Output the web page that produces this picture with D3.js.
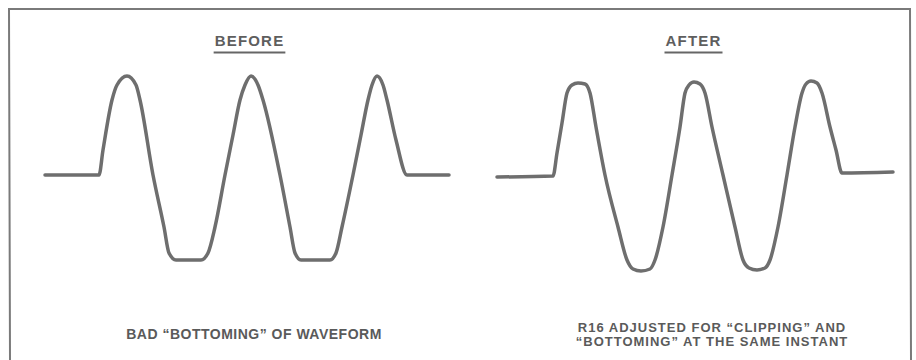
<!DOCTYPE html>
<html>
<head>
<meta charset="utf-8">
<script src="https://cdn.jsdelivr.net/npm/d3@7"></script>
<style>
  body { margin: 0; background: #fff; }
  svg { display: block; }
</style>
</head>
<body>
<div id="chart"></div>
<script>
// panel titles and captions
const titles = ["BEFORE", "AFTER"];
const captions = [
  ["BAD \u201CBOTTOMING\u201D OF WAVEFORM"],
  ["R16 ADJUSTED FOR \u201CCLIPPING\u201D AND", "\u201CBOTTOMING\u201D AT THE SAME INSTANT"]
];

// before: waveform (time units, level units; 0 = rest line)
const beforeTime  = [0, 54, 58, 67, 72, 82, 91, 95, 108, 119, 124, 131, 156, 163, 170, 180, 188, 195, 200, 206, 213, 218, 235, 245, 250, 256, 285, 291, 297, 308, 316, 323, 327, 332, 338, 342, 351, 362, 404];
const beforeLevel = [0, 0, 25, 75, 90, 99, 90, 75, 0, -52, -78, -85, -85, -78, -52, 0, 40, 75, 90, 99, 90, 75, 0, -52, -78, -85, -85, -78, -52, 0, 40, 75, 90, 99, 90, 75, 35, 0, 0];

// after: clipped top and bottom
const afterTime  = [0, 56, 60, 65, 70, 75, 81, 88, 93, 99, 108, 121, 130, 136, 144, 153, 158, 166, 175, 183, 188, 192, 197, 203, 208, 215, 226, 238, 246, 252, 260, 268, 273, 281, 290, 298, 305, 309, 314, 320, 325, 333, 339, 345, 396];
const afterLevel = [-2, -1, 22, 52, 82, 90, 92, 91, 82, 48, 0, -52, -85, -94, -96, -94, -85, -52, 0, 48, 82, 90, 93, 91, 82, 48, 0, -52, -85, -93, -95, -93, -85, -52, 0, 48, 82, 91, 94, 92, 82, 48, 25, 2, 3];

const w = 916;
const h = 360;
const ink = "#6e6e6e";
const font = "Liberation Sans, Arial, sans-serif";

const svg = d3.select("#chart")
              .append("svg")
              .attr("width", w)
              .attr("height", h);

// frame (open at the bottom, like the scan)
svg.append("path")
   .attr("d", "M10,360 L9,9 L910,9 L911,360")
   .attr("fill", "none")
   .attr("stroke", "#7a7a7a")
   .attr("stroke-width", 2);

const yScale = d3.scaleLinear()
  .domain([-100, 100])
  .range([275, 75]);

const panels = [
  {time: beforeTime, level: beforeLevel, x: d3.scaleLinear().domain([0, 404]).range([45, 449]), cx: 249.5},
  {time: afterTime,  level: afterLevel,  x: d3.scaleLinear().domain([0, 396]).range([497, 893]), cx: 693.5}
];

panels.forEach(function(p, i) {
  const pts = p.time.map((t, j) => [t, p.level[j]]);

  const line = d3.line()
    .x(d => p.x(d[0]))
    .y(d => yScale(d[1]))
    .curve(d3.curveMonotoneX);

  svg.append("path")
     .datum(pts)
     .attr("d", line)
     .attr("fill", "none")
     .attr("stroke", ink)
     .attr("stroke-width", 3.5)
     .attr("stroke-linejoin", "round")
     .attr("stroke-linecap", "round");

  // title with underline
  const t = svg.append("text")
     .attr("x", p.cx)
     .attr("y", 46)
     .attr("text-anchor", "middle")
     .style("font-family", font)
     .style("font-size", "15px")
     .style("font-weight", "bold")
     .style("letter-spacing", "1.2px")
     .attr("fill", "#5e5e5e")
     .text(titles[i]);
  const bb = t.node().getBBox();
  svg.append("line")
     .attr("x1", bb.x - 1)
     .attr("x2", bb.x + bb.width + 1)
     .attr("y1", 52.5)
     .attr("y2", 52.5)
     .attr("stroke", "#666")
     .attr("stroke-width", 2.2);
});

// captions
svg.append("text")
   .attr("x", 254)
   .attr("y", 339)
   .attr("text-anchor", "middle")
   .style("font-family", font)
   .style("font-size", "14px")
   .style("font-weight", "bold")
   .style("letter-spacing", "0.5px")
   .attr("fill", "#5a5a5a")
   .text(captions[0][0]);

captions[1].forEach(function(c, j) {
  svg.append("text")
     .attr("x", 712)
     .attr("y", 332 + j * 14)
     .attr("text-anchor", "middle")
     .style("font-family", font)
     .style("font-size", "13px")
     .style("font-weight", "bold")
     .style("letter-spacing", "1px")
     .attr("fill", "#5a5a5a")
     .text(c);
});
</script>
</body>
</html>
